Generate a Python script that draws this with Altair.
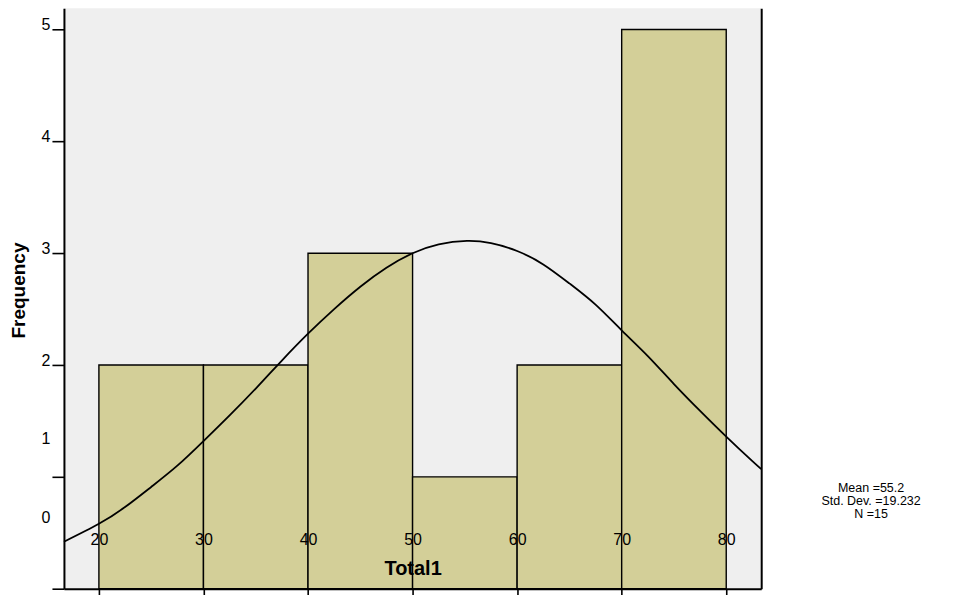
import altair as alt
import pandas as pd

# Histogram bins (Total1) and frequencies
bin_start = [20, 30, 40, 50, 60, 70]
bin_end = [30, 40, 50, 60, 70, 80]
frequency = [2, 2, 3, 1, 2, 5]

# Normal curve
curve_x = [16.66, 20, 22.5, 25, 27.5, 30, 32.5, 35, 37.5, 40, 42.5, 45, 47.5, 50,
           52.5, 55.2, 57.5, 60, 62.5, 65, 67.5, 70, 72.5, 75, 77.5, 80, 82.5, 83.34]
curve_y = [0.42, 0.58, 0.73, 0.91, 1.10, 1.32, 1.55, 1.79, 2.04, 2.28, 2.50, 2.70, 2.87, 3.00,
           3.08, 3.11, 3.09, 3.02, 2.90, 2.73, 2.54, 2.31, 2.08, 1.83, 1.59, 1.36, 1.14, 1.07]

stats_lines = ["Mean =55.2", "Std. Dev. =19.232", "N =15"]
x_ticks = [20, 30, 40, 50, 60, 70, 80]
y_ticks = [0, 1, 2, 3, 4, 5]

FONT = "Liberation Sans"
x_scale = alt.Scale(domain=[16.656, 83.344], nice=False, zero=False)
y_scale = alt.Scale(domain=[0, 5.19], nice=False)

bars_df = pd.DataFrame({"start": bin_start, "end": bin_end, "freq": frequency})
curve_df = pd.DataFrame({"x": curve_x, "y": curve_y})

bars = alt.Chart(bars_df).mark_bar(
    fill="#D3CF98", stroke="black", strokeWidth=1.4
).encode(
    x=alt.X("start:Q", scale=x_scale, axis=alt.Axis(
        values=x_ticks, title="Total1", grid=False, zindex=1,
        domainColor="black", domainWidth=2, tickColor="black", tickWidth=1.6, tickSize=10,
        labelFont=FONT, labelFontSize=16, labelColor="black", labelBaseline="middle",
        labelPadding=-59, labelFlush=False, labelOverlap=False,
        titleFont=FONT, titleFontSize=20, titleFontWeight="bold", titleColor="black",
        titleY=-20, titleBaseline="middle")),
    x2="end:Q",
    y=alt.Y("freq:Q", scale=y_scale, axis=alt.Axis(
        values=y_ticks, title="Frequency", grid=False, zindex=1,
        domainColor="black", domainWidth=2, tickColor="black", tickWidth=1.6, tickSize=12,
        labelFont=FONT, labelFontSize=16, labelColor="black", labelBaseline="alphabetic",
        labelPadding=2, labelOverlap=False, labelFlush=False,
        labelOffset={"condition": [{"test": "datum.value == 0", "value": -66},
                                   {"test": "datum.value == 1", "value": -33}],
                     "value": 0},
        titleFont=FONT, titleFontSize=19, titleFontWeight="bold", titleColor="black",
        titleX=-45, titleY=282, titleBaseline="middle")),
    y2=alt.datum(0),
)

curve = alt.Chart(curve_df).mark_line(
    color="black", strokeWidth=1.8, interpolate="natural"
).encode(
    x=alt.X("x:Q", scale=x_scale, axis=None),
    y=alt.Y("y:Q", scale=y_scale, axis=alt.Axis(
        orient="right", title=None, labels=False, ticks=False, grid=False, zindex=1,
        domainColor="black", domainWidth=2)),
)

stats = alt.Chart(pd.DataFrame({"t": [0]})).mark_text(
    text=stats_lines, font=FONT, fontSize=12.5, lineHeight=13,
    align="center", baseline="middle", color="black"
).encode(x=alt.value(808), y=alt.value(480))

chart = alt.layer(bars, curve, stats).resolve_axis(
    x="independent", y="independent"
).properties(
    width=698, height=581,
    autosize=alt.AutoSizeParams(type="none"),
    padding={"left": 56, "top": 0, "right": 190, "bottom": 6},
    background="white",
).configure_view(fill="#EFEFEF", stroke=None)

chart.save("out.html", embed_options={"renderer": "svg", "actions": False})
